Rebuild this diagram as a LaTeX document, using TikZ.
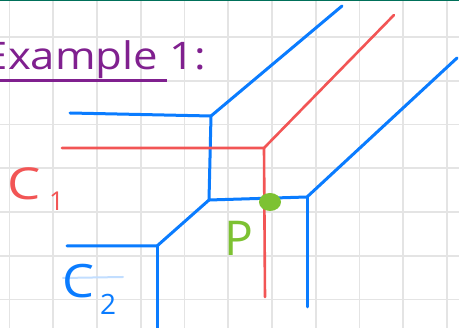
\documentclass[tikz,border=0pt]{standalone}
\usepackage{fontspec}
\setmainfont{Open Sans}
\definecolor{gridc}{HTML}{E4E4E4}
\definecolor{topc}{HTML}{00705A}
\definecolor{bluec}{HTML}{0A7CFF}
\definecolor{redc}{HTML}{F25555}
\definecolor{greenc}{HTML}{7DC232}
\definecolor{purplec}{HTML}{80208F}
\tikzset{
  gridline/.style={draw=gridc, line width=1.8pt},
  bluel/.style={draw=bluec, line width=3pt, line cap=round, line join=round},
  redl/.style={draw=redc, line width=2.6pt, line cap=round, line join=round},
  hand/.style={inner sep=0pt, font=\fontsize{38}{42}\selectfont},
}
\begin{document}
\begin{tikzpicture}[x=1pt,y=-1pt]
\useasboundingbox (0,0) rectangle (459,328);
\clip (0,0) rectangle (459,328);
\fill[white] (0,0) rectangle (459,328);
% grid
\foreach \k in {0,...,10} \draw[gridline] ({9.5+43.75*\k},0) -- ({9.5+43.75*\k},328);
\foreach \k in {0,...,6} \draw[gridline] (0,{37+43.75*\k}) -- (459,{37+43.75*\k});
\draw[topc, line width=1.5pt] (0,0.5) -- (459,0.5);
% title
\node[hand, text=purplec, anchor=base west, xscale=1.15] (title) at (-16.5,70) {Example 1:};
\coordinate (u1) at (0,80.5);
\coordinate (u2) at (167,80.5);
\draw[purplec, line width=2.5pt] (u1) -- (u2);
% blue curve
\coordinate (b1) at (70,113);
\coordinate (b2) at (211,116);
\coordinate (b3) at (342,6);
\coordinate (b4) at (209,200);
\coordinate (b5) at (307,197);
\coordinate (b6) at (457,58);
\coordinate (b7) at (307,307);
\coordinate (b8) at (157,246);
\coordinate (b9) at (67,246);
\coordinate (b10) at (157,332);
\draw[bluel] (b1) -- (b2) -- (b3);
\draw[bluel] (b2) -- (b4);
\draw[bluel] (b4) -- (b5) -- (b6);
\draw[bluel] (b5) -- (b7);
\draw[bluel] (b4) -- (b8) -- (b9);
\draw[bluel] (b8) -- (b10);
% red curve
\coordinate (r1) at (62,148);
\coordinate (r2) at (264,148);
\coordinate (r3) at (394,15);
\coordinate (r4) at (265,297);
\draw[redl] (r1) -- (r2) -- (r3);
\draw[redl] (r2) -- (r4);
% point P
\fill[greenc] (270,202) ellipse (11pt and 9pt);
\node[hand, text=greenc, anchor=base, font=\fontsize{48}{52}\selectfont] (P) at (239,256) {P};
% labels
\node[hand, text=redc, anchor=base west, xscale=1.2, font=\fontsize{44}{48}\selectfont] (C1) at (7,200) {C};
\node[hand, text=redc, anchor=base west, font=\fontsize{26}{30}\selectfont] (C1s) at (49,211) {1};
\draw[bluec!25, line width=2pt, line cap=round] (63,278) -- (123,277);
\node[hand, text=bluec, anchor=base west, xscale=1.1, font=\fontsize{46}{50}\selectfont] (C2) at (62,298) {C};
\node[hand, text=bluec, anchor=base west, font=\fontsize{28}{32}\selectfont] (C2s) at (100,315) {2};
\end{tikzpicture}
\end{document}
